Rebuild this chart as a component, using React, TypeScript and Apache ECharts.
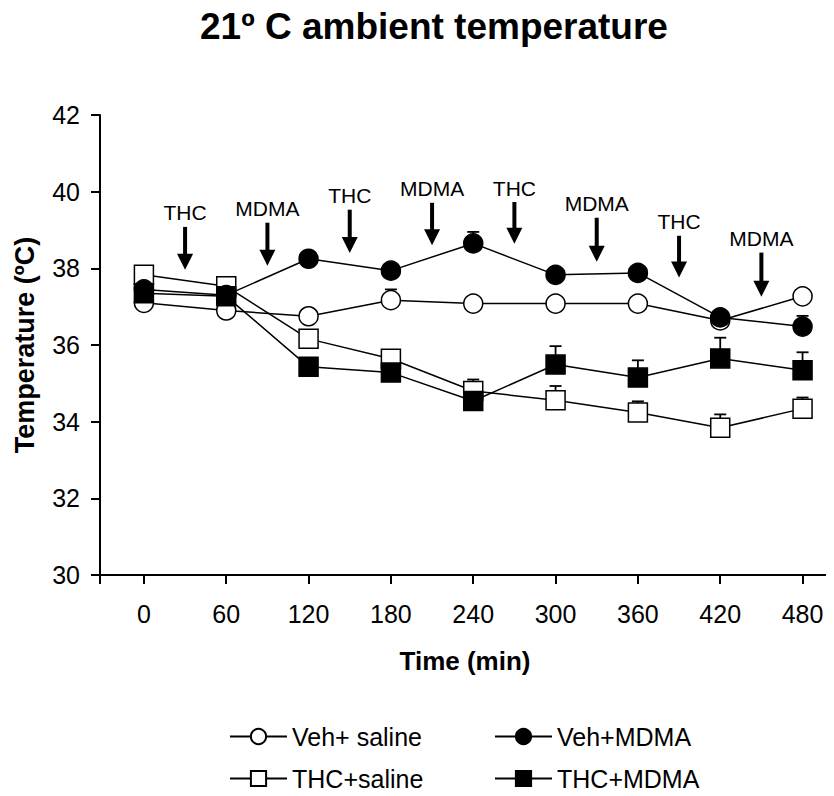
import React, { useEffect, useRef } from "react";
import * as echarts from "echarts";

const FONT = '"Liberation Sans", Arial, Helvetica, sans-serif';

const times = [0, 60, 120, 180, 240, 300, 360, 420, 480];
const xTickLabels = [0, 60, 120, 180, 240, 300, 360, 420, 480];
const yTicks = [30, 32, 34, 36, 38, 40, 42];

const seriesNames = ["Veh+ saline", "Veh+MDMA", "THC+saline", "THC+MDMA"];

const vehSaline = [37.1, 36.9, 36.75, 37.17, 37.08, 37.08, 37.08, 36.64, 37.27];
const vehMDMA = [37.45, 37.3, 38.25, 37.94, 38.65, 37.83, 37.88, 36.72, 36.48];
const thcSaline = [37.83, 37.53, 36.16, 35.64, 34.8, 34.56, 34.24, 33.84, 34.34];
const thcMDMA = [37.35, 37.27, 35.43, 35.28, 34.54, 35.49, 35.15, 35.65, 35.34];

const vehSalineErr = [0.1, 0.1, 0.1, 0.28, 0.1, 0.1, 0.1, 0.1, 0.1];
const vehMDMAErr = [0.1, 0.1, 0.1, 0.1, 0.3, 0.1, 0.1, 0.1, 0.28];
const thcSalineErr = [0.1, 0.1, 0.1, 0.1, 0.3, 0.37, 0.29, 0.35, 0.29];
const thcMDMAErr = [0.1, 0.1, 0.1, 0.1, 0.1, 0.48, 0.45, 0.54, 0.47];

const arrowTimes = [30, 90, 150, 210, 270, 330, 390, 450];
const arrowLabels = ["THC", "MDMA", "THC", "MDMA", "THC", "MDMA", "THC", "MDMA"];
const arrowTops = [39.08, 39.19, 39.53, 39.71, 39.73, 39.32, 38.85, 38.41];
const arrowTips = [37.96, 38.07, 38.4, 38.6, 38.64, 38.17, 37.76, 37.26];

export default function App() {
  const ref = useRef<HTMLDivElement>(null);

  useEffect(() => {
    if (!ref.current) return;
    const chart = echarts.init(ref.current, null, { renderer: "svg" });

    const lineSeries = (
      name: string,
      values: number[],
      symbol: string,
      fill: string
    ) => ({
      name,
      type: "line",
      data: times.map((t, i) => [t, values[i]]),
      symbol,
      symbolSize: 19,
      z: 2,
      lineStyle: { color: "#000", width: 1.5 },
      itemStyle: { color: fill, borderColor: "#000", borderWidth: 1.5 },
      emphasis: { disabled: true },
    });

    const errSeries = (values: number[], errs: number[]) => ({
      type: "custom",
      z: 1,
      silent: true,
      data: times.map((t, i) => [t, values[i], errs[i]]),
      renderItem: (params: any, api: any) => {
        const x = api.value(0);
        const y = api.value(1);
        const e = api.value(2);
        const p0 = api.coord([x, y]);
        const p1 = api.coord([x, y + e]);
        return {
          type: "group",
          children: [
            {
              type: "line",
              shape: { x1: p0[0], y1: p0[1], x2: p1[0], y2: p1[1] },
              style: { stroke: "#000", lineWidth: 1.8 },
            },
            {
              type: "line",
              shape: { x1: p1[0] - 6, y1: p1[1], x2: p1[0] + 6, y2: p1[1] },
              style: { stroke: "#000", lineWidth: 1.8 },
            },
          ],
        };
      },
    });

    const arrowSeries = {
      type: "custom",
      z: 5,
      silent: true,
      data: arrowTimes.map((t, i) => [t, arrowTops[i], arrowTips[i]]),
      renderItem: (params: any, api: any) => {
        const x = api.value(0);
        const top = api.value(1);
        const tip = api.value(2);
        const pTop = api.coord([x, top]);
        const pTip = api.coord([x, tip]);
        const headH = 16;
        const headW = 16;
        return {
          type: "group",
          children: [
            {
              type: "line",
              shape: { x1: pTop[0], y1: pTop[1], x2: pTip[0], y2: pTip[1] - headH + 1 },
              style: { stroke: "#000", lineWidth: 4 },
            },
            {
              type: "polygon",
              shape: {
                points: [
                  [pTip[0] - headW / 2, pTip[1] - headH],
                  [pTip[0] + headW / 2, pTip[1] - headH],
                  [pTip[0], pTip[1]],
                ],
              },
              style: { fill: "#000" },
            },
            {
              type: "text",
              x: pTop[0],
              y: pTop[1] - 14,
              style: {
                text: arrowLabels[params.dataIndex],
                fill: "#000",
                fontSize: 21,
                fontFamily: FONT,
                align: "center",
                verticalAlign: "middle",
              },
            },
          ],
        };
      },
    };

    const legendItem = (name: string, left: number, top: number) => ({
      orient: "horizontal",
      left,
      top,
      itemWidth: 57,
      itemHeight: 19,
      itemGap: 0,
      padding: 0,
      selectedMode: false,
      data: [name],
      textStyle: { color: "#000", fontSize: 25, fontFamily: FONT },
    });

    chart.setOption({
      animation: false,
      backgroundColor: "#fff",
      title: {
        text: "21º C ambient temperature",
        left: 195,
        top: 3,
        textStyle: { fontSize: 37, fontWeight: "bold", fontFamily: FONT, color: "#000" },
      },
      legend: [
        legendItem(seriesNames[0], 229, 724),
        legendItem(seriesNames[1], 494, 724),
        legendItem(seriesNames[2], 229, 766),
        legendItem(seriesNames[3], 494, 766),
      ],
      grid: { left: 100, right: 4, top: 115, bottom: 221, containLabel: false },
      xAxis: {
        type: "value",
        min: -32,
        max: 500,
        name: "Time (min)",
        nameLocation: "middle",
        nameGap: 73,
        nameTextStyle: { fontSize: 26, fontWeight: "bold", fontFamily: FONT, color: "#000" },
        axisLine: { show: true, onZero: false, lineStyle: { color: "#000", width: 2 } },
        axisTick: { show: true, length: 9, lineStyle: { color: "#000", width: 2 }, customValues: [-32, ...xTickLabels] },
        axisLabel: { fontSize: 25, fontFamily: FONT, color: "#000", margin: 26, customValues: xTickLabels },
        splitLine: { show: false },
      },
      yAxis: {
        type: "value",
        min: 30,
        max: 42,
        interval: 2,
        name: "Temperature (ºC)",
        nameLocation: "middle",
        nameRotate: 90,
        nameGap: 62,
        nameTextStyle: { fontSize: 27, fontWeight: "bold", fontFamily: FONT, color: "#000" },
        axisLine: { show: true, onZero: false, lineStyle: { color: "#000", width: 2 } },
        axisTick: { show: true, length: 9, lineStyle: { color: "#000", width: 2 }, customValues: yTicks },
        axisLabel: { fontSize: 25, fontFamily: FONT, color: "#000", margin: 20, customValues: yTicks },
        splitLine: { show: false },
      },
      series: [
        errSeries(vehSaline, vehSalineErr),
        errSeries(vehMDMA, vehMDMAErr),
        errSeries(thcSaline, thcSalineErr),
        errSeries(thcMDMA, thcMDMAErr),
        lineSeries(seriesNames[0], vehSaline, "circle", "#fff"),
        lineSeries(seriesNames[2], thcSaline, "rect", "#fff"),
        lineSeries(seriesNames[1], vehMDMA, "circle", "#000"),
        lineSeries(seriesNames[3], thcMDMA, "rect", "#000"),
        arrowSeries,
      ],
    });

    return () => chart.dispose();
  }, []);

  return <div ref={ref} style={{ width: 834, height: 796, margin: -8 }} />;
}
